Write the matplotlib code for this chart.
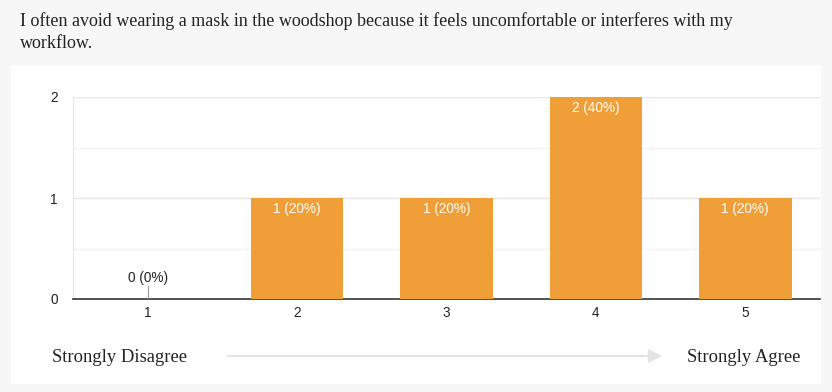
import matplotlib.pyplot as plt
from matplotlib.patches import Rectangle, FancyArrowPatch

title = "I often avoid wearing a mask in the woodshop because it feels uncomfortable or interferes with my\nworkflow."
categories = ["1", "2", "3", "4", "5"]
counts = [0, 1, 1, 2, 1]
percents = [0, 20, 20, 40, 20]
left_label = "Strongly Disagree"
right_label = "Strongly Agree"

W, H = 832, 392
fig = plt.figure(figsize=(W / 100, H / 100), dpi=100)
fig.patch.set_facecolor("#f7f7f7")

# white card behind the chart
fig.patches.append(Rectangle((11 / W, 1 - 384 / H), 810 / W, 319 / H,
                             transform=fig.transFigure, facecolor="white",
                             edgecolor="none", zorder=-5))

fig.text(20 / W, 1 - 12 / H, title, ha="left", va="top", fontsize=13,
         family="Liberation Serif", color="#222222", linespacing=1.42)

ax = fig.add_axes([73 / W, 1 - 299 / H, 747 / W, 202 / H])
ax.set_facecolor("white")
x = list(range(len(categories)))
ax.bar(x, counts, width=0.62, color="#f09e38", zorder=3)

fs = 9.8
for i, (c, p) in enumerate(zip(counts, percents)):
    label = f"{c} ({p}%)"
    if c == 0:
        ax.plot([i, i], [0, 0.13], color="#999999", lw=0.8, zorder=3)
        ax.text(i, 0.135, label, ha="center", va="bottom", fontsize=fs,
                family="Liberation Sans", color="#222222")
    else:
        ax.annotate(label, (i, c), xytext=(0, -3), textcoords="offset points",
                    ha="center", va="top", fontsize=fs, family="Liberation Sans",
                    color="white", zorder=4)

ax.set_xlim(-0.5, len(categories) - 0.5)
ax.set_ylim(0, 2)
ax.set_yticks([0, 1, 2])
ax.set_yticks([0.5, 1.5], minor=True)
ax.set_xticks(x)
ax.set_xticklabels(categories)
ax.grid(axis="y", which="major", color="#e6e6e6", lw=1, zorder=0)
ax.grid(axis="y", which="minor", color="#f2f2f2", lw=1, zorder=0)
ax.tick_params(which="both", length=0, labelsize=fs, colors="#222222", pad=5)
ax.tick_params(axis="y", pad=11)
for lab in ax.get_xticklabels() + ax.get_yticklabels():
    lab.set_family("Liberation Sans")
for s in ["top", "right"]:
    ax.spines[s].set_visible(False)
ax.spines["left"].set_color("#e6e6e6")
ax.spines["bottom"].set_color("#333333")
ax.spines["bottom"].set_linewidth(1.2)

fig.text(52 / W, 1 - 358 / H, left_label, ha="left", va="center", fontsize=13.4,
         family="Liberation Serif", color="#222222")
fig.text(800 / W, 1 - 358 / H, right_label, ha="right", va="center", fontsize=13.4,
         family="Liberation Serif", color="#222222")
fig.add_artist(FancyArrowPatch(
    (225 / W, 1 - 356 / H), (665 / W, 1 - 356 / H), transform=fig.transFigure,
    arrowstyle="-|>,head_length=8,head_width=4", color="#e4e4e4", lw=1.5))

fig.savefig("out.png", dpi=100, facecolor=fig.get_facecolor())
